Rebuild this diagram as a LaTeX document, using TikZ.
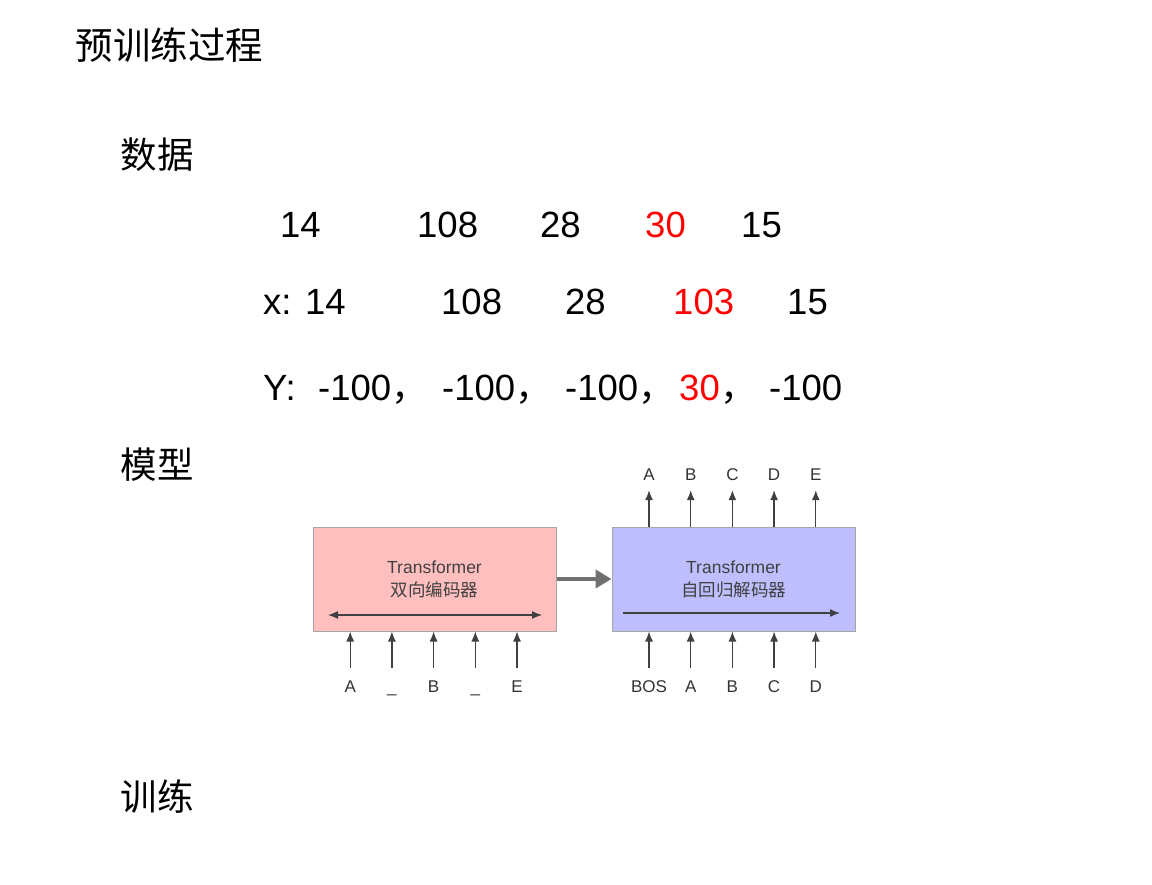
\documentclass[tikz,border=0pt]{standalone}
\usepackage{fontspec}
\setmainfont{Liberation Sans}
\newfontfamily\cjk{Noto Sans CJK SC}
\usepackage{xcolor}
\usetikzlibrary{arrows.meta, positioning}

\definecolor{encpink}{RGB}{255,191,191}
\definecolor{decblue}{RGB}{191,191,255}
\definecolor{pipegray}{RGB}{112,112,112}

\begin{document}
\begin{tikzpicture}[
    x=1pt, y=-1pt,
    heading/.style={anchor=west, font=\cjk\fontsize{37.5}{40}\selectfont},
    section/.style={anchor=west, font=\cjk\fontsize{36.5}{40}\selectfont},
    num/.style={anchor=base west, inner sep=0pt, font=\fontsize{36.5}{40}\selectfont},
    hot/.style={num, text=red},
    block/.style={draw=gray!70, line width=1pt, minimum width=243pt, minimum height=104pt, align=center, font=\fontsize{17.5}{23}\selectfont, text=black!75},
    tok/.style={anchor=base, inner sep=0pt, text height=12pt, text depth=0pt, font=\fontsize{17}{18}\selectfont, text=black!80},
    tick/.style={-{Latex[length=10pt, width=8pt]}, line width=1.3pt, black!75},
    pipe/.style={-{Triangle[length=16pt, width=18pt]}, line width=4.5pt, pipegray},
  ]

  % page
  \fill[white] (0,0) rectangle (1152,885);
  \useasboundingbox (0,0) rectangle (1152,885);

  % Headings
  \node[heading] (title) at (72,45) {预训练过程};
  \node[section] (data) at (117,155) {数据};
  \node[section] (model) at (117,465) {模型};
  \node[section] (train) at (117,797) {训练};

  % Data rows
  \node[num] (r1a) at (280,238) {14};
  \node[num] (r1b) at (417,238) {108};
  \node[num] (r1c) at (540,238) {28};
  \node[hot] (r1d) at (645,238) {30};
  \node[num] (r1e) at (741,238) {15};

  \node[num] (r2a) at (263,315) {x: 14};
  \node[num] (r2b) at (441,315) {108};
  \node[num] (r2c) at (565,315) {28};
  \node[hot] (r2d) at (673,315) {103};
  \node[num] (r2e) at (787,315) {15};

  \node[num] (r3y) at (263,400) {Y:};
  \node[num] (r3a) at (318,400) {-100\cjk{，}};
  \node[num] (r3b) at (442,400) {-100\cjk{，}};
  \node[num] (r3c) at (565,400) {-100\cjk{，}};
  \node[hot] (r3d) at (679,400) {30};
  \node[num] (r3k) at (720,400) {\cjk{，}};
  \node[num] (r3e) at (769,400) {-100};

  % Model blocks
  \node[block, fill=encpink] (enc) at (434.5,579) {Transformer\\\cjk 双向编码器};
  \node[block, fill=decblue] (dec) at (733.5,579) {Transformer\\\cjk 自回归解码器};

  % encoder -> decoder
  \draw[pipe] (enc) -- (dec);

  % attention direction inside the blocks
  \coordinate (encl) at (328,615);
  \coordinate (encr) at (542,615);
  \coordinate (decl) at (623,613);
  \coordinate (decr) at (840,613);
  \draw[tick, {Latex[length=10pt, width=8pt]}-{Latex[length=10pt, width=8pt]}] (encl) -- (encr);
  \draw[tick] (decl) -- (decr);

  % Tokens
  \foreach \t [count=\i] in {A,\_,B,\_,E}
    \node[tok] (ein\i) at ({308.5+41.7*\i},692) {\t};
  \foreach \t [count=\i] in {BOS,A,B,C,D}
    \node[tok] (din\i) at ({607.3+41.7*\i},692) {\t};
  \foreach \t [count=\i] in {A,B,C,D,E}
    \node[tok] (dout\i) at ({607.3+41.7*\i},480) {\t};

  \foreach \i in {1,...,5} {
    \draw[tick, shorten <=12pt] (ein\i.north) -- (ein\i.north |- enc.south);
    \draw[tick, shorten <=12pt] (din\i.north) -- (din\i.north |- dec.south);
    \draw[tick, shorten >=10pt] (dout\i.south |- dec.north) -- (dout\i.south);
  }

\end{tikzpicture}
\end{document}
